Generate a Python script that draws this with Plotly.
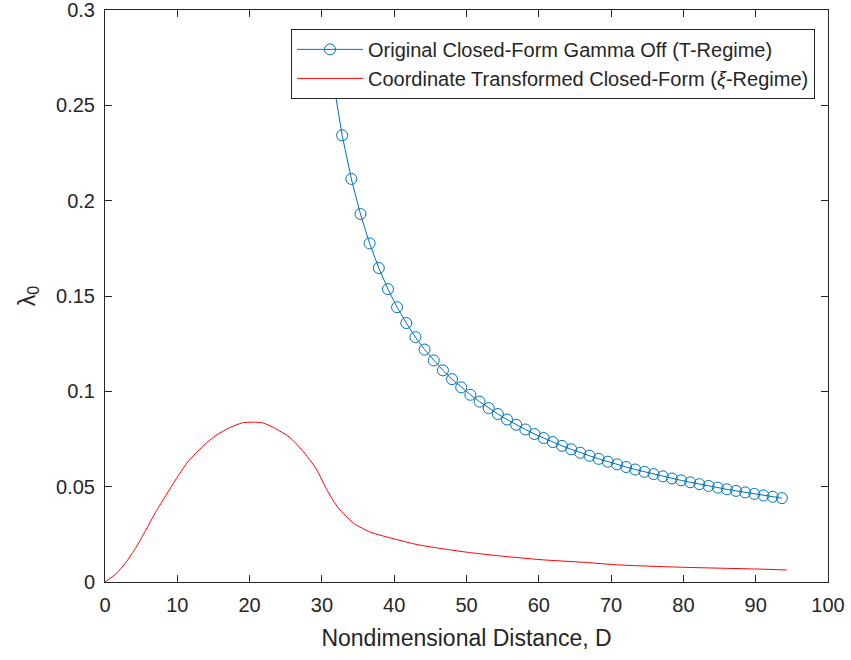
import plotly.graph_objects as go

# Blue series: Original Closed-Form Gamma Off (T-Regime), marker points
d_orig = [31.53, 32.80, 34.07, 35.33, 36.60, 37.87, 39.14, 40.40, 41.67, 42.94,
          44.20, 45.47, 46.74, 48.00, 49.27, 50.54, 51.81, 53.07, 54.34, 55.61,
          56.87, 58.14, 59.41, 60.67, 61.94, 63.21, 64.48, 65.74, 67.01, 68.28,
          69.54, 70.81, 72.08, 73.34, 74.61, 75.88, 77.15, 78.41, 79.68, 80.95,
          82.21, 83.48, 84.75, 86.01, 87.28, 88.55, 89.82, 91.08, 92.35, 93.62]
lam_orig = [0.2636, 0.2343, 0.2114, 0.1930, 0.1776, 0.1647, 0.1536, 0.1441, 0.1358, 0.1284,
            0.1219, 0.1162, 0.1110, 0.1064, 0.1021, 0.0982, 0.0946, 0.0912, 0.0881, 0.0852,
            0.0825, 0.0800, 0.0776, 0.0755, 0.0734, 0.0714, 0.0696, 0.0678, 0.0662, 0.0646,
            0.0631, 0.0617, 0.0603, 0.0590, 0.0578, 0.0566, 0.0554, 0.0543, 0.0533, 0.0523,
            0.0513, 0.0504, 0.0495, 0.0486, 0.0478, 0.0470, 0.0462, 0.0454, 0.0447, 0.0440]

# Red series: Coordinate Transformed Closed-Form (xi-Regime)
d_xi = [0, 1.5, 2.9, 4.3, 5.6, 7.0, 8.4, 10.0, 11.6, 13.5, 15.3, 17.2, 19.0, 20.4,
        21.8, 23.6, 25.5, 27.3, 29.2, 30.5, 31.7, 32.6, 34.5, 36.8, 40.0, 43.2,
        46.9, 50.3, 54.3, 60.3, 66.3, 71.3, 80.1, 90.2, 94.3]
lam_xi = [0, 0.0042, 0.0103, 0.0182, 0.0269, 0.0366, 0.0453, 0.0550, 0.0637, 0.0711,
          0.0768, 0.0809, 0.0835, 0.0838, 0.0835, 0.0804, 0.0760, 0.0690, 0.0594, 0.0497,
          0.0418, 0.0374, 0.0305, 0.0260, 0.0226, 0.0196, 0.0173, 0.0155, 0.0138, 0.0117,
          0.0103, 0.0089, 0.0077, 0.0068, 0.0063]

x_ticks = [0, 10, 20, 30, 40, 50, 60, 70, 80, 90, 100]
y_ticks = [0, 0.05, 0.1, 0.15, 0.2, 0.25, 0.3]
y_tick_text = ["0", "0.05", "0.1", "0.15", "0.2", "0.25", "0.3"]

FONT = "Liberation Sans, Arial, Helvetica, sans-serif"
AX = "#262626"

fig = go.Figure()
fig.add_trace(go.Scatter(
    x=d_orig, y=lam_orig, mode="lines+markers",
    name="Original Closed-Form Gamma Off (T-Regime)",
    line=dict(color="#0072BD", width=1),
    marker=dict(symbol="circle-open", size=11, color="#0072BD", line=dict(width=1, color="#0072BD")),
))
fig.add_trace(go.Scatter(
    x=d_xi, y=lam_xi, mode="lines",
    name="Coordinate Transformed Closed-Form (<i>ξ</i>-Regime)",
    line=dict(color="#FF0000", width=1, shape="spline", smoothing=0.6),
))

axis_common = dict(
    showgrid=False, zeroline=False, showline=True, linecolor=AX, linewidth=1,
    mirror="ticks", ticks="inside", ticklen=7, tickcolor=AX, tickwidth=1,
    tickfont=dict(family=FONT, size=20, color=AX), automargin=False,
    ticklabeloverflow="allow",
)
fig.update_xaxes(range=[0, 100], tickvals=x_ticks,
                 title=dict(text="Nondimensional Distance, D", font=dict(family=FONT, size=23, color=AX), standoff=14),
                 ticklabelstandoff=5,
                 **axis_common)
fig.update_yaxes(range=[0, 0.3], tickvals=y_ticks, ticktext=y_tick_text,
                 title=dict(text="λ<sub>0</sub>", font=dict(family=FONT, size=23, color=AX), standoff=14),
                 ticklabelstandoff=5,
                 **axis_common)

fig.update_layout(
    width=851, height=660,
    margin=dict(l=105, r=23, t=10, b=78, autoexpand=False),
    paper_bgcolor="white", plot_bgcolor="white",
    font=dict(family=FONT, color=AX),
    showlegend=True,
    legend=dict(
        x=0.982, y=0.967, xanchor="right", yanchor="top",
        bgcolor="white", bordercolor=AX, borderwidth=1,
        font=dict(family=FONT, size=20, color=AX),
        itemwidth=66, tracegroupgap=0,
    ),
)

fig.write_html("out.html")
